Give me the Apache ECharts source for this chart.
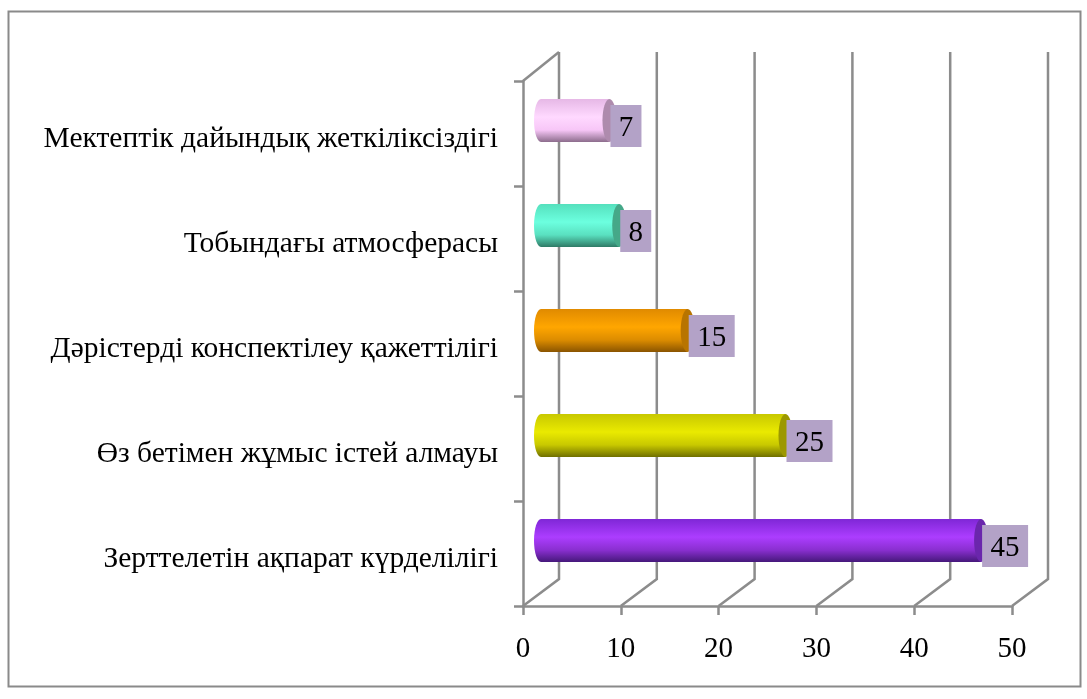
<!DOCTYPE html>
<html><head><meta charset="utf-8">
<style>html,body{margin:0;padding:0;background:#fff}#c{width:1087px;height:699px}</style>
<script src="https://cdn.jsdelivr.net/npm/echarts@6/dist/echarts.min.js"></script>
</head><body><div id="c"></div>
<script>
const categories = ['Зерттелетін ақпарат күрделілігі','Өз бетімен жұмыс істей алмауы','Дәрістерді конспектілеу қажеттілігі','Тобындағы атмосферасы','Мектептік дайындық жеткіліксіздігі'];
const values = [45,25,15,8,7];
const gridTicks = [0,10,20,30,40,50];
// [edge top, highlight, lower, bottom shadow, end cap]
const palette = [
  ['#7f27d6','#ac3dff','#8a2fd0','#45187a','#6a26ac'],
  ['#c8c800','#eaea00','#c8c800','#6f6f00','#9c9800'],
  ['#e08a00','#ffa600','#dc8c00','#8a5400','#b87400'],
  ['#55e0bd','#6cffdf','#5ae0c0','#2f7a66','#45a888'],
  ['#e6b8e6','#ffd9ff','#f7c6f7','#8c6c8c','#ae8bad']
];
const GRAY = '#8c8c8c', DX = 36, DY = 27, SHIFT_X = 18, SHIFT_Y = 13, CAP = 7;
const chart = echarts.init(document.getElementById('c'), null, {renderer:'canvas'});
const serif = '"Liberation Serif","Times New Roman",serif';
chart.setOption({
  animation:false,
  backgroundColor:'#fff',
  graphic:[{type:'rect',silent:true,z:-1,shape:{x:8.5,y:11.5,width:1072,height:675},style:{fill:'none',stroke:'#8a8a8a',lineWidth:2}}],
  grid:{left:523,right:75,top:81,bottom:93,containLabel:false},
  xAxis:{type:'value',min:0,max:50,interval:10,splitLine:{show:false},
    axisLine:{show:true,onZero:false,lineStyle:{color:GRAY,width:2.5}},
    axisTick:{show:true,length:9,lineStyle:{color:GRAY,width:2.5}},
    axisLabel:{fontFamily:serif,fontSize:29,color:'#000',margin:29}},
  yAxis:{type:'category',data:categories,
    axisLine:{show:true,lineStyle:{color:GRAY,width:2.5}},
    axisTick:{show:true,length:9,lineStyle:{color:GRAY,width:2.5}},
    axisLabel:{fontFamily:serif,fontSize:29.5,color:'#000',margin:25,verticalAlign:'top',lineHeight:11}},
  series:[
    {type:'custom',z:1,silent:true,data:gridTicks.map(v=>[v]),encode:{x:0},
     renderItem(p,api){
       const cs=p.coordSys, v=api.value(0), x=api.coord([v,0])[0], b=cs.y+cs.height, t=cs.y;
       const pts=[[x,b],[x+DX,b-DY],[x+DX,t-DY-2]];
       const ch=[{type:'polyline',shape:{points:pts},style:{fill:'none',stroke:GRAY,lineWidth:2.5}}];
       if(v===0) ch.push({type:'line',shape:{x1:x,y1:t,x2:x+DX,y2:t-DY-2},style:{stroke:GRAY,lineWidth:2.5}});
       return {type:'group',children:ch};
     }},
    {type:'custom',z:3,silent:true,data:values.map((v,i)=>[v,i]),encode:{x:0,y:1},
     renderItem(p,api){
       const v=api.value(0), i=api.value(1), pt=api.coord([v,i]), x0=api.coord([0,i])[0];
       const h=api.size([0,1])[1]*0.41, cy=pt[1]-SHIFT_Y, c=palette[i];
       const left=x0+SHIFT_X, right=pt[0]+SHIFT_X;
       const g={type:'linear',x:0,y:0,x2:0,y2:1,colorStops:[
         {offset:0,color:c[0]},{offset:0.42,color:c[1]},{offset:0.72,color:c[2]},{offset:1,color:c[3]}]};
       return {type:'group',children:[
         {type:'ellipse',shape:{cx:left,cy,rx:CAP,ry:h/2},style:{fill:g}},
         {type:'rect',shape:{x:left,y:cy-h/2,width:right-left,height:h},style:{fill:g}},
         {type:'ellipse',shape:{cx:right,cy,rx:CAP,ry:h/2},style:{fill:c[4]}}
       ]};
     }},
    {type:'custom',z:4,silent:true,data:values.map((v,i)=>[v,i]),encode:{x:0,y:1},
     renderItem(p,api){
       const v=api.value(0), i=api.value(1), pt=api.coord([v,i]);
       const w=v>=10?46:31, x=pt[0]+19, y=pt[1]-7.5;
       return {type:'group',children:[
         {type:'rect',shape:{x,y:y-21,width:w,height:42},style:{fill:'#b3a2c7'}},
         {type:'text',style:{x:x+w/2,y:y+2,text:String(v),font:'29px '+serif,fill:'#000',textAlign:'center',textVerticalAlign:'middle'}}
       ]};
     }}
  ]
});
</script></body></html>
